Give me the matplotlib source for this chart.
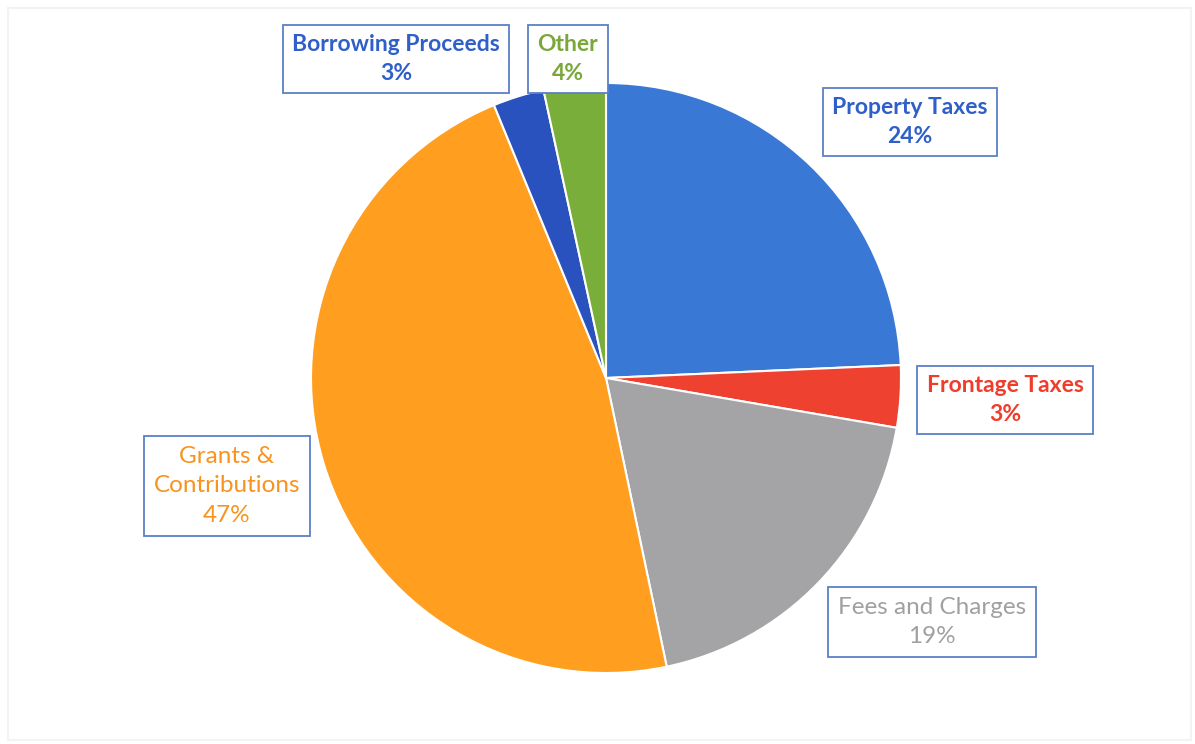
import matplotlib.pyplot as plt
from matplotlib.patches import Rectangle

categories = ["Property Taxes", "Frontage Taxes", "Fees and Charges",
              "Grants &\nContributions", "Borrowing Proceeds", "Other"]
shares = [24.3, 3.4, 19.0, 47.1, 2.8, 3.4]
pct_labels = ["24%", "3%", "19%", "47%", "3%", "4%"]

wedge_colors = ["#3A78D6", "#EE4130", "#A4A4A6", "#FF9E1F", "#2A52BE", "#7AAE3A"]
text_colors = ["#2F5FC8", "#F03C2A", "#A0A0A0", "#F7931E", "#2F5FC8", "#79A73A"]
bold = [True, True, False, False, True, True]
# label centres in pixel coordinates (x, y from top)
label_pos = [(910, 122), (1005, 400), (932, 622), (227, 486), (396, 59), (568, 59)]

W, H = 1195, 744
fig = plt.figure(figsize=(W / 100, H / 100), dpi=100)
ax = fig.add_axes([0, 0, 1, 1])

# faint outer frame
ax.add_patch(Rectangle((8, 4), W - 12, H - 12, fill=False, ec="#F3F3F3", lw=1.5))

ax.pie(shares, colors=wedge_colors, startangle=90, counterclock=False,
       center=(606, H - 378), radius=295, frame=True,
       wedgeprops=dict(edgecolor="white", linewidth=1.5))
ax.set_xlim(0, W)
ax.set_ylim(0, H)
ax.axis("off")

for cat, pct, tc, b, (x, y) in zip(categories, pct_labels, text_colors, bold, label_pos):
    ax.text(x, H - y, f"{cat}\n{pct}", ha="center", va="center",
            fontsize=16.5 if b else 17.5, family="Lato", color=tc,
            fontweight="bold" if b else "normal", linespacing=1.5,
            bbox=dict(boxstyle="square,pad=0.4", fc="white", ec="#5B7FC7", lw=1.3))

fig.savefig("out.png", dpi=100)
